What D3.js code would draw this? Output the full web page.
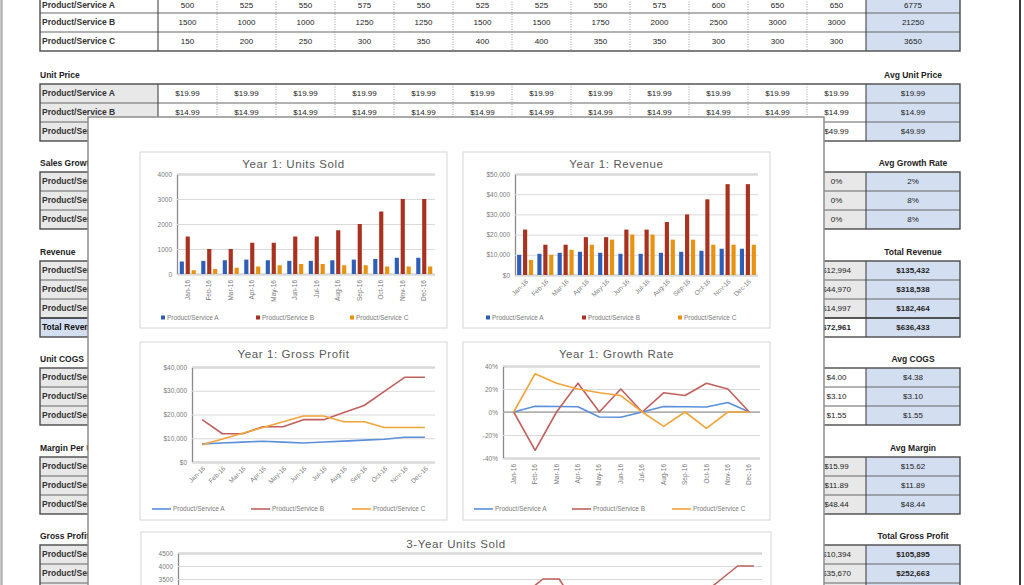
<!DOCTYPE html>
<html>
<head>
<meta charset="utf-8">
<script src="https://cdn.jsdelivr.net/npm/d3@7"></script>
<style>
  body { margin: 0; background: #fff; }
  svg { display: block; font-family: "Liberation Sans", Arial, sans-serif; }
</style>
</head>
<body>
<div id="sheet"></div>
<script>
// 데이터
const months = ["Jan-16","Feb-16","Mar-16","Apr-16","May-16","Jun-16","Jul-16","Aug-16","Sep-16","Oct-16","Nov-16","Dec-16"];
const products = ["Product/Service A", "Product/Service B", "Product/Service C"];
const keys = ["A", "B", "C"];

const unitsA = [500, 525, 550, 575, 550, 525, 525, 550, 575, 600, 650, 650];
const unitsB = [1500, 1000, 1000, 1250, 1250, 1500, 1500, 1750, 2000, 2500, 3000, 3000];
const unitsC = [150, 200, 250, 300, 350, 400, 400, 350, 350, 300, 300, 300];
const unitsTotal = [6775, 21250, 3650];

const priceA = [19.99, 19.99, 19.99, 19.99, 19.99, 19.99, 19.99, 19.99, 19.99, 19.99, 19.99, 19.99];
const priceB = [14.99, 14.99, 14.99, 14.99, 14.99, 14.99, 14.99, 14.99, 14.99, 14.99, 14.99, 14.99];
const priceC = [49.99, 49.99, 49.99, 49.99, 49.99, 49.99, 49.99, 49.99, 49.99, 49.99, 49.99, 49.99];
const avgPrice = [19.99, 14.99, 49.99];

const growthA = [0, 0.05, 0.048, 0.045, -0.043, -0.045, 0, 0.048, 0.045, 0.043, 0.083, 0];
const growthB = [0, -0.333, 0, 0.25, 0, 0.2, 0, 0.167, 0.143, 0.25, 0.2, 0];
const growthC = [0, 0.333, 0.25, 0.2, 0.167, 0.143, 0, -0.125, 0, -0.143, 0, 0];
const avgGrowth = [0.02, 0.08, 0.08];

const revenueA = [9995, 10495, 10995, 11494, 10995, 10495, 10495, 10995, 11494, 11994, 12994, 12994];
const revenueB = [22485, 14990, 14990, 18738, 18738, 22485, 22485, 26233, 29980, 37475, 44970, 44970];
const revenueC = [7499, 9998, 12498, 14997, 17497, 19996, 19996, 17497, 17497, 14997, 14997, 14997];
const revenueAll = [39979, 35483, 38482, 45229, 47229, 52976, 52976, 54724, 58971, 64466, 72961, 72961];
const revenueTotal = [135432, 318538, 182464, 636433];

const cogsA = [4.75, 4.75, 4.75, 4.75, 4.75, 4.75, 4.00, 4.00, 4.00, 4.00, 4.00, 4.00];
const cogsB = [3.10, 3.10, 3.10, 3.10, 3.10, 3.10, 3.10, 3.10, 3.10, 3.10, 3.10, 3.10];
const cogsC = [1.55, 1.55, 1.55, 1.55, 1.55, 1.55, 1.55, 1.55, 1.55, 1.55, 1.55, 1.55];
const avgCogs = [4.38, 3.10, 1.55];

const marginA = [15.24, 15.24, 15.24, 15.24, 15.24, 15.24, 15.99, 15.99, 15.99, 15.99, 15.99, 15.99];
const marginB = [11.89, 11.89, 11.89, 11.89, 11.89, 11.89, 11.89, 11.89, 11.89, 11.89, 11.89, 11.89];
const marginC = [48.44, 48.44, 48.44, 48.44, 48.44, 48.44, 48.44, 48.44, 48.44, 48.44, 48.44, 48.44];
const avgMargin = [15.62, 11.89, 48.44];

const grossA = [7620, 8001, 8382, 8763, 8382, 8001, 8395, 8795, 9194, 9594, 10394, 10394];
const grossB = [17835, 11890, 11890, 14863, 14863, 17835, 17835, 20808, 23780, 29725, 35670, 35670];
const grossC = [7266, 9688, 12110, 14532, 16954, 19376, 19376, 16954, 16954, 14532, 14532, 14532];
const grossTotal = [105895, 252663, 176806];

// 3년 데이터 (화면 아래쪽은 잘려 있음)
const months3 = ["Jan-16","Feb-16","Mar-16","Apr-16","May-16","Jun-16","Jul-16","Aug-16","Sep-16","Oct-16","Nov-16","Dec-16",
  "Jan-17","Feb-17","Mar-17","Apr-17","May-17","Jun-17","Jul-17","Aug-17","Sep-17","Oct-17","Nov-17","Dec-17",
  "Jan-18","Feb-18","Mar-18","Apr-18","May-18","Jun-18","Jul-18","Aug-18","Sep-18","Oct-18","Nov-18","Dec-18"];
const units3A = [500, 525, 550, 575, 550, 525, 525, 550, 575, 600, 650, 650,
  650, 675, 700, 725, 700, 675, 675, 700, 725, 750, 800, 800,
  800, 825, 850, 875, 850, 825, 825, 850, 875, 900, 950, 950];
const units3B = [1500, 1000, 1000, 1250, 1250, 1500, 1500, 1750, 2000, 2500, 3000, 3000,
  2000, 1500, 1500, 1750, 1750, 2000, 2000, 2250, 2500, 3000, 3500, 3500,
  2500, 2000, 2000, 2250, 2250, 2500, 2500, 2750, 3000, 3500, 4000, 4000];
const units3C = [150, 200, 250, 300, 350, 400, 400, 350, 350, 300, 300, 300,
  300, 350, 400, 450, 500, 550, 550, 500, 500, 450, 450, 450,
  450, 500, 550, 600, 650, 700, 700, 650, 650, 600, 600, 600];

const W = 1024, H = 585;
const svg = d3.select("#sheet").append("svg").attr("width", W).attr("height", H);
svg.append("rect").attr("width", W).attr("height", H).attr("fill", "#fff");

// ---------- 1. 스프레드시트 표 ----------
const GRAY = "#e8e8e8", BLUE = "#d3dff1", WHITE = "#fff";
const fInt = d3.format("d"), fMoney2 = d3.format("$.2f"), fMoney0 = d3.format("$,.0f");
const fPct = v => d3.format(".0%")(v).replace("\u2212", "-");

// 첫 번째 표의 제목은 화면 위로 잘려 보이지 않음
const sections = [
  { title: null, right: null, top: -6, rows: [unitsA, unitsB, unitsC], totals: unitsTotal, fmt: fInt, tfmt: fInt, labelFill: WHITE, cellFill: WHITE },
  { title: "Unit Price", right: "Avg Unit Price", top: 84, rows: [priceA, priceB, priceC], totals: avgPrice, fmt: fMoney2, tfmt: fMoney2, labelFill: GRAY, cellFill: WHITE },
  { title: "Sales Growth", right: "Avg Growth Rate", top: 172, rows: [growthA, growthB, growthC], totals: avgGrowth, fmt: fPct, tfmt: fPct, labelFill: GRAY, cellFill: GRAY },
  { title: "Revenue", right: "Total Revenue", top: 261, rows: [revenueA, revenueB, revenueC, revenueAll], totals: revenueTotal, fmt: fMoney0, tfmt: fMoney0, labelFill: GRAY, cellFill: GRAY, boldTotals: true, totalRow: "Total Revenue" },
  { title: "Unit COGS", right: "Avg COGS", top: 368, rows: [cogsA, cogsB, cogsC], totals: avgCogs, fmt: fMoney2, tfmt: fMoney2, labelFill: GRAY, cellFill: WHITE },
  { title: "Margin Per Unit", right: "Avg Margin", top: 457, rows: [marginA, marginB, marginC], totals: avgMargin, fmt: fMoney2, tfmt: fMoney2, labelFill: GRAY, cellFill: GRAY },
  { title: "Gross Profit", right: "Total Gross Profit", top: 545, rows: [grossA, grossB, grossC], totals: grossTotal, fmt: fMoney0, tfmt: fMoney0, labelFill: GRAY, cellFill: GRAY, boldTotals: true }
];

const colX = d3.scaleBand().domain(months).range([158, 866]);
const tableL = 40, labelR = 158, totalL = 866, tableR = 960, rowH = 19;

const tables = svg.append("g").attr("font-size", 8).attr("fill", "#222");

sections.forEach(sec => {
  const g = tables.append("g");
  const rowY = d3.scaleBand().domain(d3.range(sec.rows.length)).range([sec.top, sec.top + rowH * sec.rows.length]);
  const bottom = sec.top + rowH * sec.rows.length;

  if (sec.title) {
    g.append("text").attr("x", tableL).attr("y", sec.top - 6).attr("font-weight", "bold").attr("font-size", 8.5).text(sec.title);
    g.append("text").attr("x", (totalL + tableR) / 2).attr("y", sec.top - 6).attr("text-anchor", "middle")
      .attr("font-weight", "bold").attr("font-size", 8.5).text(sec.right);
  }

  sec.rows.forEach((vals, r) => {
    const isTotal = sec.totalRow && r === 3;
    const cy = Math.max(rowY(r) + rowH / 2, 5);
    g.append("rect").attr("x", tableL).attr("y", rowY(r)).attr("width", labelR - tableL).attr("height", rowH)
      .attr("fill", isTotal ? BLUE : sec.labelFill);
    g.append("text").attr("x", tableL + 2).attr("y", cy).attr("dy", "0.35em")
      .attr("font-weight", "bold").attr("font-size", 8.5).attr("fill", isTotal ? "#111" : "#333")
      .text(isTotal ? sec.totalRow : products[r]);

    g.selectAll(null).data(vals).join("rect")
      .attr("x", (d, i) => colX(months[i])).attr("y", rowY(r))
      .attr("width", colX.bandwidth()).attr("height", rowH).attr("fill", isTotal ? WHITE : sec.cellFill);
    g.selectAll(null).data(vals).join("text")
      .attr("x", (d, i) => colX(months[i]) + colX.bandwidth() / 2).attr("y", cy).attr("dy", "0.35em")
      .attr("text-anchor", "middle").attr("font-weight", isTotal ? "bold" : "normal").text(d => sec.fmt(d));

    g.append("rect").attr("x", totalL).attr("y", rowY(r)).attr("width", tableR - totalL).attr("height", rowH).attr("fill", BLUE);
    g.append("text").attr("x", (totalL + tableR) / 2).attr("y", cy).attr("dy", "0.35em")
      .attr("text-anchor", "middle").attr("font-weight", sec.boldTotals ? "bold" : "normal").text(sec.tfmt(sec.totals[r]));
  });

  // 세로 점선
  g.selectAll(null).data(months.slice(1)).join("line")
    .attr("x1", d => colX(d)).attr("x2", d => colX(d)).attr("y1", sec.top).attr("y2", bottom)
    .attr("stroke", "#9a9a9a").attr("stroke-dasharray", "1,1.5");
  // 가로선
  g.selectAll(null).data(d3.range(1, sec.rows.length)).join("line")
    .attr("x1", tableL).attr("x2", tableR).attr("y1", d => rowY(d)).attr("y2", d => rowY(d))
    .attr("stroke", d => (sec.totalRow && d === 3) ? "#222" : "#666").attr("stroke-width", d => (sec.totalRow && d === 3) ? 1.6 : 1.1);
  [labelR, totalL].forEach(x => g.append("line").attr("x1", x).attr("x2", x).attr("y1", sec.top).attr("y2", bottom).attr("stroke", "#444").attr("stroke-width", 1.1));
  g.append("rect").attr("x", tableL).attr("y", sec.top).attr("width", tableR - tableL).attr("height", bottom - sec.top)
    .attr("fill", "none").attr("stroke", "#4a4a4a").attr("stroke-width", 1.4);
});

svg.append("line").attr("x1", 1.5).attr("x2", 1.5).attr("y1", 0).attr("y2", H).attr("stroke", "#b4b4b4").attr("stroke-width", 2.5);
svg.append("line").attr("x1", 1020).attr("x2", 1020).attr("y1", 0).attr("y2", H).attr("stroke", "#3c3c3c").attr("stroke-width", 2);

// ---------- 2. 차트 패널 ----------
svg.append("rect").attr("x", 88).attr("y", 117).attr("width", 736).attr("height", 490)
  .attr("fill", "#fff").attr("stroke", "#8f8f8f").attr("stroke-width", 1.5);

const barColor = { A: "#2d5fb8", B: "#a8321f", C: "#e8920f" };
const lineColor = { A: "#5a8fdb", B: "#c0605c", C: "#f0a43a" };
const TXT = "#7a7a7a";

function frame(box, title) {
  const g = svg.append("g");
  g.append("rect").attr("x", box.x).attr("y", box.y).attr("width", box.w).attr("height", box.h)
    .attr("fill", "#fff").attr("stroke", "#d6d6d6");
  g.append("text").attr("x", box.x + box.w / 2).attr("y", box.y + 16).attr("text-anchor", "middle")
    .attr("font-size", 11.5).attr("letter-spacing", 0.6).attr("fill", "#595959").text(title);
  return g;
}

function yAxis(g, y, x0, x1, ticks, fmt) {
  const ax = g.append("g").attr("transform", `translate(${x0},0)`)
    .call(d3.axisLeft(y).tickValues(ticks).tickSize(-(x1 - x0)).tickPadding(5).tickFormat(fmt));
  ax.select(".domain").attr("stroke", "#8a8a8a").attr("stroke-width", 1.3);
  ax.selectAll(".tick line").attr("stroke", "#d9d9d9");
  ax.selectAll(".tick text").attr("fill", TXT).attr("font-size", 6.5).attr("font-family", "Liberation Sans, Arial, sans-serif");
  return ax;
}

function xAxis(g, x, yPos, angle) {
  const ax = g.append("g").attr("transform", `translate(0,${yPos})`).call(d3.axisBottom(x).tickSize(0));
  ax.select(".domain").remove();
  const t = ax.selectAll(".tick text").attr("fill", TXT).attr("font-size", 6.5)
    .attr("font-family", "Liberation Sans, Arial, sans-serif").attr("text-anchor", "end");
  if (angle === -90) t.attr("x", -4).attr("y", 0).attr("dy", "0.32em").attr("transform", "rotate(-90)");
  else t.attr("x", -1).attr("y", 4).attr("dy", "0.3em").attr("transform", "rotate(-45)");
}

function legend(g, xs, y, type, colors) {
  keys.forEach((k, i) => {
    if (type === "bar") {
      g.append("rect").attr("x", xs[i]).attr("y", y - 2.5).attr("width", 4).attr("height", 4).attr("fill", colors[k]);
      g.append("text").attr("x", xs[i] + 6).attr("y", y).attr("dy", "0.33em").attr("font-size", 6.5).attr("fill", TXT).text(products[i]);
    } else {
      g.append("line").attr("x1", xs[i]).attr("x2", xs[i] + 19).attr("y1", y).attr("y2", y).attr("stroke", colors[k]).attr("stroke-width", 1.6);
      g.append("text").attr("x", xs[i] + 21).attr("y", y).attr("dy", "0.33em").attr("font-size", 6.5).attr("fill", TXT).text(products[i]);
    }
  });
}

function barChart(box, title, plot, series, yMax, step, fmt, angle, legendX) {
  const g = frame(box, title);
  const x = d3.scaleBand().domain(months).range([plot.l, plot.r]);
  const y = d3.scaleLinear().domain([0, yMax]).range([plot.b, plot.t]);
  yAxis(g, y, plot.l, plot.r, d3.range(0, yMax + 1, step), fmt);
  const x1 = d3.scaleBand().domain(keys).range([0, 16]).paddingInner(0.3);
  const rows = months.map((m, i) => ({ m, vals: keys.map((k, j) => ({ k, v: series[j][i] })) }));
  g.selectAll(".grp").data(rows).join("g")
    .attr("transform", d => `translate(${x(d.m) + x.bandwidth() / 2 - 8},0)`)
    .selectAll("rect").data(d => d.vals).join("rect")
    .attr("x", d => x1(d.k)).attr("width", x1.bandwidth())
    .attr("y", d => y(d.v)).attr("height", d => y(0) - y(d.v)).attr("fill", d => barColor[d.k]);
  xAxis(g, x, plot.b + 2, angle);
  legend(g, legendX, box.y + box.h - 10, "bar", barColor);
}

function lineChart(box, title, plot, series, yMin, yMax, step, fmt, angle, legendX, zero) {
  const g = frame(box, title);
  const x = d3.scaleBand().domain(months).range([plot.l, plot.r]);
  const y = d3.scaleLinear().domain([yMin, yMax]).range([plot.b, plot.t]);
  yAxis(g, y, plot.l, plot.r, d3.range(yMin, yMax + step / 2, step), fmt);
  if (zero) g.append("line").attr("x1", plot.l).attr("x2", plot.r).attr("y1", y(0)).attr("y2", y(0)).attr("stroke", "#8a8a8a").attr("stroke-width", 1.2);
  const line = d3.line().x((d, i) => x(months[i]) + x.bandwidth() / 2).y(d => y(d));
  keys.forEach((k, j) => {
    g.append("path").datum(series[j]).attr("d", line).attr("fill", "none")
      .attr("stroke", lineColor[k]).attr("stroke-width", 1.6).attr("stroke-linejoin", "round");
  });
  xAxis(g, x, plot.b + 2, angle);
  legend(g, legendX, box.y + box.h - 11, "line", lineColor);
}

barChart({ x: 140, y: 152, w: 307, h: 176 }, "Year 1: Units Sold", { l: 177, r: 435, t: 174, b: 274 },
  [unitsA, unitsB, unitsC], 4000, 1000, fInt, -90, [161, 256, 350]);

barChart({ x: 463, y: 152, w: 307, h: 176 }, "Year 1: Revenue", { l: 515, r: 758, t: 174, b: 275 },
  [revenueA, revenueB, revenueC], 50000, 10000, d3.format("$,"), -45, [486, 582, 678]);

lineChart({ x: 140, y: 342, w: 307, h: 178 }, "Year 1: Gross Profit", { l: 192, r: 435, t: 367, b: 462 },
  [grossA, grossB, grossC], 0, 40000, 10000, d3.format("$,"), -45, [152, 251, 352], false);

lineChart({ x: 463, y: 342, w: 307, h: 178 }, "Year 1: Growth Rate", { l: 503, r: 760, t: 366, b: 458 },
  [growthA, growthB, growthC], -0.4, 0.4, 0.2, fPct, -90, [474, 572, 672], true);

// 3년 판매량 (아래쪽 잘림)
(function () {
  const box = { x: 141, y: 532, w: 630, h: 120 };
  const g = frame(box, "3-Year Units Sold");
  g.select("text").attr("y", 548);
  const x = d3.scaleBand().domain(months3).range([178, 762]);
  const y = d3.scaleLinear().domain([0, 4500]).range([670, 553]);
  yAxis(g, y, 178, 762, d3.range(0, 4501, 500), fInt);
  const line = d3.line().x((d, i) => x(months3[i]) + x.bandwidth() / 2).y(d => y(d));
  [units3A, units3B, units3C].forEach((s, j) => {
    g.append("path").datum(s).attr("d", line).attr("fill", "none")
      .attr("stroke", lineColor[keys[j]]).attr("stroke-width", 1.6).attr("stroke-linejoin", "round");
  });
})();
</script>
</body>
</html>
